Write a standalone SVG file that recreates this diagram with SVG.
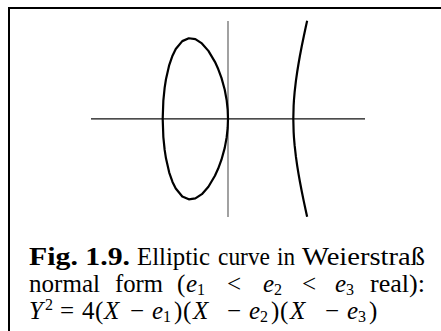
<svg xmlns="http://www.w3.org/2000/svg" width="441" height="331" viewBox="0 0 441 331">
<style>
.frame{fill:none;stroke:#000;stroke-width:2}
.axis{fill:none;stroke:#111;stroke-width:1.3}
.vaxis{fill:none;stroke:#555;stroke-width:1.1}
.curve{fill:none;stroke:#000;stroke-width:2.2;stroke-linejoin:round}
.t{font-family:"Liberation Serif","DejaVu Serif",serif;font-size:25px;fill:#000}
.b{font-weight:bold}
.i{font-style:italic}
.sub{font-size:16px}
</style>
<rect width="441" height="331" fill="#fff"/>
<path class="frame" d="M9,331 V8 H441"/>
<g id="plot">
<g id="axes">
<line class="axis" x1="91" y1="118.8" x2="365" y2="118.8"/>
<line class="vaxis" x1="228" y1="21" x2="228" y2="217"/>
</g>
<g id="oval">
<path class="curve" d="M162.7,118.8 L163.35,100.55 L164.66,87.67 L165.97,79.23 L169.23,65.04 L172.5,55.67 L175.76,49.04 L182.29,41.12 L188.82,38.24 L195.35,39.19 L201.88,43.45 L208.41,50.87 L214.94,61.83 L218.21,69.02 L221.47,77.9 L224.74,89.76 L226.69,100.42 L227.67,109.61 L228,118.8 L227.67,127.99 L226.69,137.18 L224.74,147.84 L221.47,159.7 L218.21,168.58 L214.94,175.77 L208.41,186.73 L201.88,194.15 L195.35,198.41 L188.82,199.36 L182.29,196.48 L175.76,188.56 L172.5,181.93 L169.23,172.56 L165.97,158.37 L164.66,149.93 L163.35,137.05 Z"/>
</g>
<g id="branch">
<path class="curve" d="M307.14,20.8 L307.01,21.38 L305.71,27.32 L303.75,36.49 L301.79,46.08 L299.83,56.32 L298.52,63.69 L297.22,71.75 L295.91,80.93 L294.61,92.41 L293.95,100.27 L293.63,105.75 L293.3,118.8 L293.63,131.85 L293.95,137.33 L294.61,145.19 L295.91,156.67 L297.22,165.85 L298.52,173.91 L299.83,181.28 L301.79,191.52 L303.75,201.11 L305.71,210.28 L307.01,216.22 L307.14,216.8"/>
</g>
</g>
<g id="caption">
<text class="t b" x="29" y="265" textLength="101" lengthAdjust="spacingAndGlyphs">Fig. 1.9.</text>
<text class="t" x="137" y="265" textLength="73" lengthAdjust="spacingAndGlyphs">Elliptic</text>
<text class="t" x="218" y="265" textLength="52" lengthAdjust="spacingAndGlyphs">curve</text>
<text class="t" x="277" y="265" textLength="18" lengthAdjust="spacingAndGlyphs">in</text>
<text class="t" x="302" y="265" textLength="123" lengthAdjust="spacingAndGlyphs">Weierstraß</text>

<text class="t" x="29" y="292" textLength="71" lengthAdjust="spacingAndGlyphs">normal</text>
<text class="t" x="115" y="292" textLength="48" lengthAdjust="spacingAndGlyphs">form</text>
<text class="t" y="292"><tspan x="177">(</tspan><tspan class="i" x="186">e</tspan><tspan class="sub" x="197" dy="3">1</tspan><tspan x="227" dy="-3">&lt;</tspan><tspan class="i" x="263">e</tspan><tspan class="sub" x="274" dy="3">2</tspan><tspan x="302" dy="-3">&lt;</tspan><tspan class="i" x="335">e</tspan><tspan class="sub" x="346" dy="3">3</tspan></text>
<text class="t" x="370" y="292" textLength="55" lengthAdjust="spacingAndGlyphs">real):</text>

<text class="t" y="319"><tspan class="i" x="29">Y</tspan><tspan class="sub" x="45" dy="-9">2</tspan><tspan x="60" dy="9">=</tspan><tspan x="82">4</tspan><tspan x="95">(</tspan><tspan class="i" x="104">X</tspan><tspan x="130">−</tspan><tspan class="i" x="152">e</tspan><tspan class="sub" x="163" dy="3">1</tspan><tspan x="174" dy="-3">)</tspan><tspan x="183">(</tspan><tspan class="i" x="193">X</tspan><tspan x="227">−</tspan><tspan class="i" x="249">e</tspan><tspan class="sub" x="260" dy="3">2</tspan><tspan x="271" dy="-3">)</tspan><tspan x="280">(</tspan><tspan class="i" x="290">X</tspan><tspan x="325">−</tspan><tspan class="i" x="347">e</tspan><tspan class="sub" x="358" dy="3">3</tspan><tspan x="369" dy="-3">)</tspan></text>
</g>
</svg>
